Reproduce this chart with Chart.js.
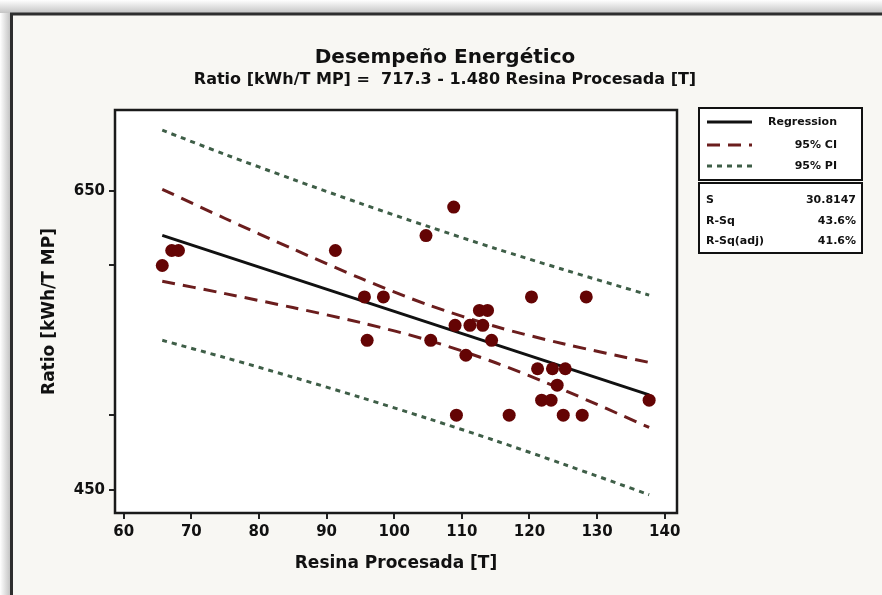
<!DOCTYPE html>
<html><head><meta charset="utf-8">
<script src="https://cdn.jsdelivr.net/npm/chart.js@4.4.1/dist/chart.umd.min.js"></script>
<style>html,body{margin:0;padding:0;background:#f8f7f3;} canvas{display:block;}</style>
</head><body>
<canvas id="c" width="882" height="595"></canvas>
<script>
const chartTitle = 'Desempeño Energético';
const chartSubtitle = 'Ratio [kWh/T MP] =  717.3 - 1.480 Resina Procesada [T]';
const xAxisTitle = 'Resina Procesada [T]';
const yAxisTitle = 'Ratio [kWh/T MP]';

const resinaX = [65.7, 67.1, 68.1, 91.3, 95.6, 96.0, 98.4, 104.7, 105.4, 108.8, 109.0, 109.2, 110.6, 111.2, 112.6, 113.8, 113.1, 114.4, 117.0, 120.3, 121.2, 121.8, 123.2, 123.4, 124.1, 125.3, 125.0, 127.8, 128.4, 137.7];
const ratioY  = [600, 610, 610, 610, 579, 550, 579, 620, 550, 639, 560, 500, 540, 560, 570, 570, 560, 550, 500, 579, 531, 510, 510, 531, 520, 531, 500, 500, 579, 510];

// fitted line (read at its two ends)
const fitX = [65.7, 137.7];
const fitY = [620.1, 513.5];

// confidence / prediction bands
const bandX   = [65.7, 75, 85, 95, 105, 115, 125, 137.7];
const ciUpper = [650.9, 631.4, 611.1, 591.5, 573.7, 559.2, 547.7, 535.2];
const ciLower = [589.5, 581.2, 571.9, 561.9, 550.1, 535.0, 516.9, 491.8];
const piUpper = [690.4, 674.2, 657.6, 641.5, 626.1, 611.3, 597.3, 580.2];
const piLower = [550.0, 538.4, 525.4, 511.9, 497.7, 482.9, 467.3, 446.8];

const xTickValues = [60, 70, 80, 90, 100, 110, 120, 130, 140];
const yTickValues = [450, 500, 600, 650];
const yTickLabels = ['450', '', '', '650'];

const legendLabels = ['Regression', '95% CI', '95% PI'];
const statLabels = ['S', 'R-Sq', 'R-Sq(adj)'];
const statValues = ['30.8147', '43.6%', '41.6%'];

const FONT = '"DejaVu Sans", sans-serif';
const pts = (xs, ys) => xs.map((x, i) => ({x: x, y: ys[i]}));

const framePlugin = {
  id: 'frame',
  beforeDraw(chart) {
    const {ctx, width, height, chartArea: a} = chart;
    ctx.save();
    ctx.fillStyle = '#ffffff';
    ctx.fillRect(0, 0, width, height);
    let g = ctx.createLinearGradient(0, 0, 0, 13);
    g.addColorStop(0, '#ffffff'); g.addColorStop(1, '#c4c4c4');
    ctx.fillStyle = g; ctx.fillRect(0, 0, width, 13);
    let g2 = ctx.createLinearGradient(0, 0, 10, 0);
    g2.addColorStop(0, '#ffffff'); g2.addColorStop(1, '#c4c4c4');
    ctx.fillStyle = g2; ctx.fillRect(0, 13, 10, height - 13);
    ctx.fillStyle = '#f8f7f3';
    ctx.fillRect(12, 15, width - 12, height - 15);
    ctx.strokeStyle = '#2e2e2e'; ctx.lineWidth = 3;
    ctx.beginPath(); ctx.moveTo(11.5, height); ctx.lineTo(11.5, 14); ctx.lineTo(width, 14); ctx.stroke();
    ctx.fillStyle = '#ffffff';
    ctx.fillRect(a.left, a.top, a.right - a.left, a.bottom - a.top);
    ctx.restore();
  },
  afterDatasetsDraw(chart) {
    const {ctx, chartArea: a} = chart;
    ctx.save();
    ctx.strokeStyle = '#1a1a1a'; ctx.lineWidth = 2.5;
    ctx.strokeRect(a.left, a.top, a.right - a.left, a.bottom - a.top);
    ctx.restore();
  }
};

const legendPlugin = {
  id: 'customLegend',
  afterDraw(chart) {
    const ctx = chart.ctx;
    const ds = chart.data.datasets;
    ctx.save();
    ctx.lineWidth = 2; ctx.strokeStyle = '#111'; ctx.fillStyle = '#ffffff';
    ctx.fillRect(699, 108, 163, 72); ctx.strokeRect(699, 108, 163, 72);
    ctx.fillRect(699, 183, 163, 70); ctx.strokeRect(699, 183, 163, 70);
    const rowsY = [122, 145, 166];
    const srcIdx = [1, 2, 4];
    ctx.font = 'bold 11px ' + FONT;
    ctx.textBaseline = 'middle';
    rowsY.forEach((y, i) => {
      const d = ds[srcIdx[i]];
      ctx.strokeStyle = d.borderColor; ctx.lineWidth = d.borderWidth;
      ctx.setLineDash(d.borderDash || []);
      ctx.beginPath(); ctx.moveTo(707, y); ctx.lineTo(752, y); ctx.stroke();
      ctx.setLineDash([]);
      ctx.fillStyle = '#111'; ctx.textAlign = 'right';
      ctx.fillText(legendLabels[i], 837, y);
    });
    const statY = [200, 221, 241];
    statY.forEach((y, i) => {
      ctx.fillStyle = '#111';
      ctx.textAlign = 'left'; ctx.fillText(statLabels[i], 706, y);
      ctx.textAlign = 'right'; ctx.fillText(statValues[i], 856, y);
    });
    ctx.restore();
  }
};

const tickFont = {family: FONT, size: 15, weight: 'bold'};
const titleFont = {family: FONT, size: 17, weight: 'bold', lineHeight: 1.2};

new Chart(document.getElementById('c').getContext('2d'), {
  type: 'scatter',
  data: {
    datasets: [
      {label: 'Datos', data: pts(resinaX, ratioY), pointRadius: 6.5, pointHoverRadius: 6.5,
       backgroundColor: '#640404', borderColor: '#640404', borderWidth: 0, showLine: false, xAxisID: 'x', yAxisID: 'y'},
      {label: legendLabels[0], type: 'line', data: pts(fitX, fitY), borderColor: '#111111', borderWidth: 3,
       pointRadius: 0, fill: false, xAxisID: 'x', yAxisID: 'y'},
      {label: legendLabels[1], type: 'line', data: pts(bandX, ciUpper), borderColor: '#6b1d1d', borderWidth: 3,
       borderDash: [13, 8], pointRadius: 0, tension: 0.3, fill: false, xAxisID: 'x', yAxisID: 'y'},
      {label: legendLabels[1] + ' ', type: 'line', data: pts(bandX, ciLower), borderColor: '#6b1d1d', borderWidth: 3,
       borderDash: [13, 8], pointRadius: 0, tension: 0.3, fill: false, xAxisID: 'x', yAxisID: 'y'},
      {label: legendLabels[2], type: 'line', data: pts(bandX, piUpper), borderColor: '#3e5e47', borderWidth: 3,
       borderDash: [5, 5], pointRadius: 0, tension: 0.3, fill: false, xAxisID: 'x', yAxisID: 'y'},
      {label: legendLabels[2] + ' ', type: 'line', data: pts(bandX, piLower), borderColor: '#3e5e47', borderWidth: 3,
       borderDash: [5, 5], pointRadius: 0, tension: 0.3, fill: false, xAxisID: 'x', yAxisID: 'y'}
    ]
  },
  options: {
    responsive: false, animation: false, devicePixelRatio: 1,
    events: [],
    layout: {padding: {left: 8, top: 0, right: 0, bottom: 0}},
    plugins: {
      legend: {display: false},
      tooltip: {enabled: false},
      title: {display: true, text: chartTitle, color: '#111',
              font: {family: FONT, size: 20, weight: 'bold', lineHeight: 1.2}, padding: {top: 46, bottom: 0}},
      subtitle: {display: true, text: chartSubtitle, color: '#111',
              font: {family: FONT, size: 16, weight: 'bold', lineHeight: 1.2}, padding: {top: 0.4, bottom: 20.4}}
    },
    scales: {
      x: {type: 'linear', position: 'bottom', min: 58.71, max: 141.82,
          afterBuildTicks: s => { s.ticks = xTickValues.map(v => ({value: v})); },
          afterFit: s => { s.height = 82; },
          grid: {display: true, drawOnChartArea: false, drawTicks: true, tickLength: 6, color: '#222', lineWidth: 2},
          border: {display: false},
          ticks: {color: '#111', font: tickFont, padding: 4, maxRotation: 0, autoSkip: false},
          title: {display: true, text: xAxisTitle, color: '#111', font: titleFont, padding: {top: 0, bottom: 21}}},
      y: {type: 'linear', position: 'left', min: 434.6, max: 703.9,
          afterBuildTicks: s => { s.ticks = yTickValues.map(v => ({value: v})); },
          afterFit: s => { s.width = 107; },
          grid: {display: true, drawOnChartArea: false, drawTicks: true, tickLength: 6, color: '#222', lineWidth: 2},
          border: {display: false},
          ticks: {color: '#111', font: tickFont, padding: 4, autoSkip: false,
                  callback: v => { const i = yTickValues.indexOf(v); return i >= 0 ? yTickLabels[i] : ''; }},
          title: {display: true, text: yAxisTitle, color: '#111', font: titleFont, padding: {top: 31, bottom: 0}}},
      yRight: {type: 'linear', position: 'right', display: true,
          grid: {display: false}, ticks: {display: false}, border: {display: false},
          afterFit: s => { s.width = 205; }}
    }
  },
  plugins: [framePlugin, legendPlugin]
});
</script>
</body></html>
